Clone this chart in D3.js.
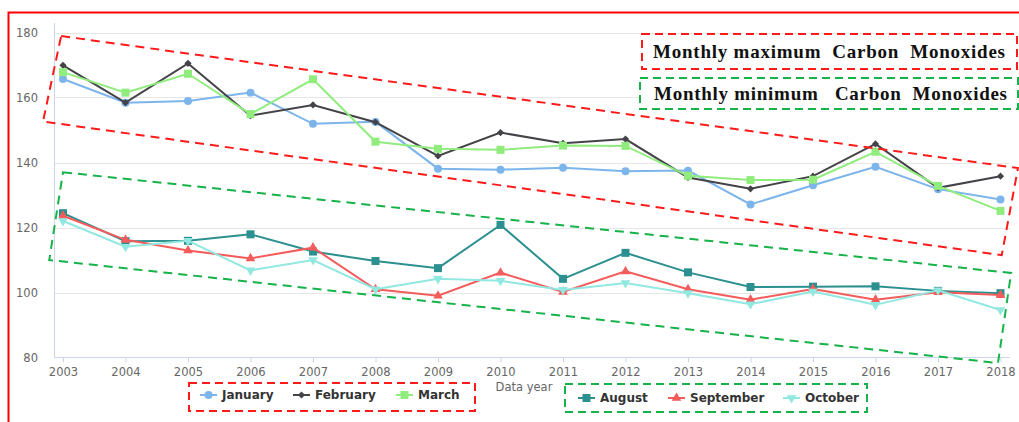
<!DOCTYPE html>
<meta charset="utf-8">
<script src="https://cdn.jsdelivr.net/npm/d3@7"></script>
<style>
  body { margin: 0; background: #fff; }
  text { font-family: "DejaVu Sans", sans-serif; }
</style>
<div id="chart"></div>
<script>
// data
var years = [2003, 2004, 2005, 2006, 2007, 2008, 2009, 2010, 2011, 2012, 2013, 2014, 2015, 2016, 2017, 2018];
var yTicks = [80, 100, 120, 140, 160, 180];

var january   = [165.7, 158.4, 158.9, 161.5, 151.9, 152.5, 138.1, 137.8, 138.4, 137.3, 137.5, 127.1, 133.0, 138.7, 131.8, 128.6];
var february  = [169.9, 158.4, 170.5, 154.4, 157.7, 152.4, 142.0, 149.2, 145.9, 147.2, 135.4, 131.9, 135.8, 145.7, 132.2, 135.8];
var march     = [167.8, 161.5, 167.3, 154.9, 165.6, 146.4, 144.2, 143.9, 145.2, 145.1, 135.9, 134.6, 134.7, 143.3, 132.8, 125.1];
var august    = [124.4, 115.8, 115.9, 117.9, 112.6, 109.7, 107.5, 120.8, 104.2, 112.2, 106.2, 101.7, 101.8, 101.9, 100.5, 99.8];
var september = [123.6, 116.2, 112.9, 110.5, 113.8, 101.0, 99.0, 106.1, 100.2, 106.5, 101.0, 97.8, 101.1, 97.8, 100.1, 99.2];
var october   = [122.0, 114.1, 115.9, 106.8, 110.0, 101.0, 104.2, 103.6, 100.8, 102.9, 99.8, 96.4, 100.3, 96.2, 100.7, 94.6];

// dashed groupings (year, value)
var maxBand = [[2002.97, 178.9], [2018.28, 138.3], [2018.02, 111.5], [2002.68, 152.6]];
var minBand = [[2003.0, 137.0], [2018.17, 106.0], [2017.96, 78.3], [2002.78, 110.0]];

var series = [
  {name: "January",   values: january,   color: "#7cb5ec", symbol: d3.symbolCircle,   size: 50, rot: 0},
  {name: "February",  values: february,  color: "#434348", symbol: d3.symbolSquare,   size: 26, rot: 45},
  {name: "March",     values: march,     color: "#90ed7d", symbol: d3.symbolSquare,   size: 64, rot: 0},
  {name: "August",    values: august,    color: "#2b908f", symbol: d3.symbolSquare,   size: 64, rot: 0},
  {name: "September", values: september, color: "#f45b5b", symbol: d3.symbolTriangle, size: 40, rot: 0},
  {name: "October",   values: october,   color: "#91e8e1", symbol: d3.symbolTriangle, size: 40, rot: 180}
];

var W = 1019, H = 422;
var svg = d3.select("#chart").append("svg")
    .attr("width", W).attr("height", H);

var x = d3.scaleLinear().domain([2003, 2018]).range([63, 1000.5]);
var y = d3.scaleLinear().domain([80, 180]).range([357.5, 32.5]);
var plotLeft = 54, plotRight = 1010, plotTop = 23;

// outer red frame
svg.append("path")
  .attr("d", "M8.5," + H + "V12.5H" + W)
  .attr("fill", "none").attr("stroke", "#ff0000").attr("stroke-width", 2);

// gridlines
svg.append("g").selectAll("line")
  .data(yTicks.slice(1))
  .enter().append("line")
    .attr("x1", plotLeft).attr("x2", plotRight)
    .attr("y1", function(d) { return Math.round(y(d)) + 0.5; })
    .attr("y2", function(d) { return Math.round(y(d)) + 0.5; })
    .attr("stroke", "#e6e6e6").attr("stroke-width", 1);

// y axis
var yAxis = svg.append("g")
  .attr("transform", "translate(" + plotLeft + ",0)")
  .call(d3.axisLeft(y).tickValues(yTicks).tickSize(0).tickPadding(16));
yAxis.select(".domain").remove();
yAxis.selectAll("text").attr("fill", "#666").style("font-size", "11.5px");
svg.append("line")
  .attr("x1", plotLeft + 0.5).attr("x2", plotLeft + 0.5)
  .attr("y1", plotTop).attr("y2", y(80))
  .attr("stroke", "#ccd6eb");

// x axis
var xAxis = svg.append("g")
  .attr("transform", "translate(0," + y(80) + ")")
  .call(d3.axisBottom(x).tickValues(years).tickFormat(d3.format("d")).tickSize(5).tickPadding(5));
xAxis.select(".domain").remove();
xAxis.selectAll("line").attr("stroke", "#ccd6eb");
xAxis.selectAll("text").attr("fill", "#666").style("font-size", "11.5px");
svg.append("line")
  .attr("x1", plotLeft).attr("x2", plotRight)
  .attr("y1", y(80)).attr("y2", y(80))
  .attr("stroke", "#ccd6eb");

svg.append("text")
  .attr("x", 524).attr("y", 391)
  .attr("text-anchor", "middle")
  .attr("fill", "#666").style("font-size", "11.5px")
  .text("Data year");

// series lines and markers
var line = d3.line()
  .x(function(d, i) { return x(years[i]); })
  .y(function(d) { return y(d); });

series.forEach(function(s) {
  svg.append("path")
    .datum(s.values)
    .attr("d", line)
    .attr("fill", "none")
    .attr("stroke", s.color)
    .attr("stroke-width", 2);
  svg.append("g").selectAll("path")
    .data(s.values)
    .enter().append("path")
      .attr("d", d3.symbol().type(s.symbol).size(s.size))
      .attr("transform", function(d, i) {
        return "translate(" + x(years[i]) + "," + y(d) + ") rotate(" + s.rot + ")";
      })
      .attr("fill", s.color);
});

// dashed bands
var band = d3.line()
  .x(function(d) { return x(d[0]); })
  .y(function(d) { return y(d[1]); })
  .curve(d3.curveLinearClosed);

svg.append("path").datum(maxBand).attr("d", band)
  .attr("fill", "none").attr("stroke", "#ff1a1a").attr("stroke-width", 2)
  .attr("stroke-dasharray", "9,6");
svg.append("path").datum(minBand).attr("d", band)
  .attr("fill", "none").attr("stroke", "#16b24a").attr("stroke-width", 2)
  .attr("stroke-dasharray", "9,6");

// annotation boxes
function noteBox(x0, y0, x1, y1, stroke, label, tx, ty, tlen) {
  svg.append("rect")
    .attr("x", x0).attr("y", y0)
    .attr("width", x1 - x0).attr("height", y1 - y0)
    .attr("fill", "#fff").attr("stroke", stroke)
    .attr("stroke-width", 2).attr("stroke-dasharray", "8,5");
  if (label) {
    svg.append("text")
      .attr("x", tx).attr("y", ty)
      .attr("textLength", tlen).attr("lengthAdjust", "spacing")
      .style("font-family", "'Liberation Serif', serif")
      .style("font-weight", "bold").style("font-size", "19px")
      .style("white-space", "pre")
      .attr("fill", "#111")
      .text(label);
  }
}
noteBox(642, 34, 1017, 69, "#ff1a1a", "Monthly maximum  Carbon  Monoxides", 653, 58, 352);
noteBox(640, 78, 1018, 109, "#16b24a", "Monthly minimum   Carbon  Monoxides", 654, 100, 353);

// legends
function legend(x0, y0, x1, y1, stroke, items, xs, cy) {
  noteBox(x0, y0, x1, y1, stroke);
  items.forEach(function(s, i) {
    var lx = xs[i];
    svg.append("line")
      .attr("x1", lx).attr("x2", lx + 17)
      .attr("y1", cy).attr("y2", cy)
      .attr("stroke", s.color).attr("stroke-width", 2);
    svg.append("path")
      .attr("d", d3.symbol().type(s.symbol).size(s.size))
      .attr("transform", "translate(" + (lx + 8.5) + "," + cy + ") rotate(" + s.rot + ")")
      .attr("fill", s.color);
    svg.append("text")
      .attr("x", lx + 22).attr("y", cy + 4)
      .attr("fill", "#333")
      .style("font-size", "12px").style("font-weight", "bold")
      .text(s.name);
  });
}
legend(189, 383, 475, 411, "#ff1a1a", series.slice(0, 3), [200, 293, 396], 395);
legend(565, 384, 867, 412, "#16b24a", series.slice(3), [578, 668, 783], 398);
</script>
